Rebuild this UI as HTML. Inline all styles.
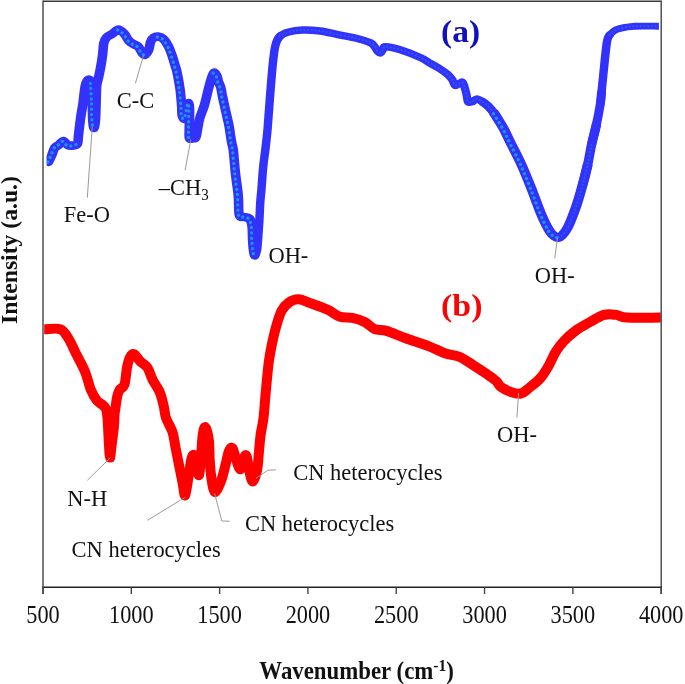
<!DOCTYPE html>
<html><head><meta charset="utf-8"><title>FTIR</title>
<style>
html,body{margin:0;padding:0;background:#fff;}
body{width:685px;height:684px;overflow:hidden;font-family:"Liberation Serif",serif;}
svg{display:block;font-family:"Liberation Serif",serif;filter:blur(0.45px);}
.ld path,.ld line{stroke:#9a9a9a;stroke-width:1;fill:none;}
</style></head><body>
<svg width="685" height="684" viewBox="0 0 685 684">
<rect x="0" y="0" width="685" height="684" fill="#fff"/>
<defs><clipPath id="cb"><rect x="46.6" y="0" width="612.3" height="600"/></clipPath><clipPath id="cr"><rect x="44.2" y="0" width="616.6" height="600"/></clipPath></defs>
<!-- curves -->
<g clip-path="url(#cb)"><g transform="scale(1.1,1)" fill="none" stroke="#3232fa" stroke-linejoin="round" stroke-linecap="round"><path d="M44.18,161.80 C44.44,161.20 45.23,159.33 45.73,158.20 C46.23,157.07 46.53,156.70 47.18,155.00 C47.83,153.30 48.61,149.67 49.64,148.00 C50.67,146.33 52.03,146.17 53.36,145.00 C54.70,143.83 56.30,141.00 57.64,141.00 C58.97,141.00 59.95,144.23 61.36,145.00 C62.77,145.77 64.58,145.80 66.09,145.60 C67.61,145.40 69.59,145.40 70.45,143.80 C71.32,142.20 71.02,138.43 71.27,136.00 C71.53,133.57 71.61,132.67 72.00,129.20 C72.39,125.73 73.08,119.40 73.64,115.20 C74.20,111.00 74.73,108.87 75.36,104.00 C76.00,99.13 76.65,90.03 77.45,86.00 C78.26,81.97 79.27,80.30 80.18,79.80 C81.09,79.30 82.30,79.63 82.91,83.00 C83.52,86.37 83.59,93.83 83.82,100.00 C84.05,106.17 84.00,115.33 84.27,120.00 C84.55,124.67 85.03,128.00 85.45,128.00 C85.88,128.00 86.48,124.67 86.82,120.00 C87.15,115.33 87.27,105.67 87.45,100.00 C87.64,94.33 87.61,89.50 87.91,86.00 C88.21,82.50 88.70,82.00 89.27,79.00 C89.85,76.00 90.70,72.03 91.36,68.00 C92.03,63.97 92.77,58.95 93.27,54.80 C93.77,50.65 93.74,46.03 94.36,43.10 C94.98,40.17 95.68,38.77 97.00,37.20 C98.32,35.63 100.50,34.97 102.27,33.70 C104.05,32.43 105.86,29.60 107.64,29.60 C109.41,29.60 111.32,31.85 112.91,33.70 C114.50,35.55 115.76,38.95 117.18,40.70 C118.61,42.45 120.03,43.22 121.45,44.20 C122.88,45.18 124.48,45.23 125.73,46.60 C126.97,47.97 127.94,51.03 128.91,52.40 C129.88,53.77 130.52,55.18 131.55,54.80 C132.58,54.42 134.20,52.25 135.09,50.10 C135.98,47.95 136.17,43.95 136.91,41.90 C137.65,39.85 138.39,38.68 139.55,37.80 C140.70,36.92 142.30,36.40 143.82,36.60 C145.33,36.80 147.06,37.33 148.64,39.00 C150.21,40.67 151.95,43.78 153.27,46.60 C154.59,49.42 155.52,52.58 156.55,55.90 C157.58,59.22 158.73,63.82 159.45,66.50 C160.18,69.18 160.21,68.30 160.91,72.00 C161.61,75.70 162.94,83.18 163.64,88.70 C164.33,94.22 164.76,100.62 165.09,105.10 C165.42,109.58 165.15,113.37 165.64,115.60 C166.12,117.83 167.27,119.43 168.00,118.50 C168.73,117.57 169.42,112.58 170.00,110.00 C170.58,107.42 171.06,103.00 171.45,103.00 C171.85,103.00 172.27,105.50 172.36,110.00 C172.45,114.50 172.03,125.33 172.00,130.00 C171.97,134.67 171.61,136.62 172.18,138.00 C172.76,139.38 174.45,138.47 175.45,138.30 C176.45,138.13 177.45,138.72 178.18,137.00 C178.91,135.28 179.24,131.17 179.82,128.00 C180.39,124.83 180.64,121.82 181.64,118.00 C182.64,114.18 184.45,110.18 185.82,105.10 C187.18,100.02 188.74,92.02 189.82,87.50 C190.89,82.98 191.50,80.45 192.27,78.00 C193.05,75.55 193.62,73.13 194.45,72.80 C195.29,72.47 196.58,74.52 197.27,76.00 C197.97,77.48 198.06,79.78 198.64,81.70 C199.21,83.62 200.11,84.97 200.73,87.50 C201.35,90.03 201.74,93.58 202.36,96.90 C202.98,100.22 203.74,103.88 204.45,107.40 C205.17,110.92 205.98,114.78 206.64,118.00 C207.29,121.22 207.83,123.48 208.36,126.70 C208.89,129.92 209.41,134.47 209.82,137.30 C210.23,140.13 210.44,141.58 210.82,143.70 C211.20,145.82 211.56,145.15 212.09,150.00 C212.62,154.85 213.32,165.93 214.00,172.80 C214.68,179.67 215.71,186.77 216.18,191.20 C216.65,195.63 216.59,195.43 216.82,199.40 C217.05,203.37 216.71,212.07 217.55,215.00 C218.38,217.93 220.27,216.42 221.82,217.00 C223.36,217.58 225.61,217.00 226.82,218.50 C228.03,220.00 228.62,222.42 229.09,226.00 C229.56,229.58 229.41,235.92 229.64,240.00 C229.86,244.08 230.12,247.95 230.45,250.50 C230.79,253.05 231.11,255.30 231.64,255.30" stroke-width="8.7"/><path d="M231.64,255.30 C232.17,255.30 233.12,253.43 233.64,250.50 C234.15,247.57 234.36,242.78 234.73,237.70 C235.09,232.62 235.50,226.00 235.82,220.00 C236.14,214.00 236.33,206.70 236.64,201.70 C236.94,196.70 237.30,194.45 237.64,190.00 C237.97,185.55 238.32,179.33 238.64,175.00 C238.95,170.67 239.12,168.17 239.55,164.00 C239.97,159.83 240.58,155.67 241.18,150.00 C241.79,144.33 242.44,139.30 243.18,130.00 C243.92,120.70 244.83,105.22 245.64,94.20 C246.44,83.18 247.21,72.02 248.00,63.90 C248.79,55.78 249.30,50.08 250.36,45.50 C251.42,40.92 252.36,38.65 254.36,36.40" stroke-width="7.7"/><path d="M254.36,36.40 C256.36,34.15 258.91,33.07 262.36,32.00 C265.82,30.93 270.30,30.17 275.09,30.00 C279.88,29.83 285.77,30.23 291.09,31.00 C296.41,31.77 301.68,33.43 307.00,34.60 C312.32,35.77 318.08,36.65 323.00,38.00 C327.92,39.35 333.64,41.28 336.55,42.70 C339.45,44.12 339.36,45.12 340.45,46.50 C341.55,47.88 342.18,49.92 343.09,51.00 C344.00,52.08 345.06,53.25 345.91,53.00 C346.76,52.75 347.41,50.53 348.18,49.50 C348.95,48.47 347.82,46.72 350.55,46.80 C353.27,46.88 359.12,48.13 364.55,50.00 C369.97,51.87 378.70,55.80 383.09,58.00 C387.48,60.20 388.18,61.45 390.91,63.20 C393.64,64.95 396.80,66.65 399.45,68.50 C402.11,70.35 404.88,72.45 406.82,74.30 C408.76,76.15 409.94,77.75 411.09,79.60 C412.24,81.45 412.58,84.82 413.73,85.40 C414.88,85.98 416.85,83.58 418.00,83.10 C419.15,82.62 419.83,81.53 420.64,82.50 C421.44,83.47 422.20,86.67 422.82,88.90 C423.44,91.13 423.92,93.75 424.36,95.90 C424.80,98.05 424.65,100.82 425.45,101.80 C426.26,102.78 427.85,102.28 429.18,101.80 C430.52,101.32 431.86,98.90 433.45,98.90 C435.05,98.90 436.95,100.53 438.73,101.80 C440.50,103.07 442.32,104.55 444.09,106.50 C445.86,108.45 447.59,110.78 449.36,113.50" stroke-width="7.5"/><path d="M438.73,101.80 C440.50,103.07 442.32,104.55 444.09,106.50 C445.86,108.45 447.59,110.78 449.36,113.50 C451.14,116.22 453.12,119.88 454.73,122.80" stroke-width="8.2"/><path d="M449.36,113.50 C451.14,116.22 453.12,119.88 454.73,122.80 C456.33,125.72 457.41,127.63 459.00,131.00 C460.59,134.37 461.85,137.60 464.27,143.00 C466.70,148.40 470.44,155.90 473.55,163.40 C476.65,170.90 479.80,179.47 482.91,188.00 C486.02,196.53 489.39,207.43 492.18,214.60 C494.97,221.77 497.58,227.35 499.64,231.00 C501.70,234.65 503.20,235.42 504.55,236.50 C505.89,237.58 506.67,237.67 507.73,237.50 C508.79,237.33 509.47,237.25 510.91,235.50 C512.35,233.75 514.21,231.85 516.36,227.00 C518.52,222.15 521.65,213.23 523.82,206.40 C525.98,199.57 527.65,192.82 529.36,186.00 C531.08,179.18 532.70,172.33 534.09,165.50" stroke-width="9.0"/><path d="M529.36,186.00 C531.08,179.18 532.70,172.33 534.09,165.50 C535.48,158.67 536.38,151.82 537.73,145.00 C539.08,138.18 540.85,131.43 542.18,124.60" stroke-width="8.6"/><path d="M537.73,145.00 C539.08,138.18 540.85,131.43 542.18,124.60 C543.52,117.77 544.95,109.32 545.73,104.00 C546.50,98.68 546.18,99.55 546.82,92.70" stroke-width="8.2"/><path d="M545.73,104.00 C546.50,98.68 546.18,99.55 546.82,92.70 C547.45,85.85 548.70,71.52 549.55,62.90 C550.39,54.28 551.12,45.65 551.91,41.00 C552.70,36.35 552.94,36.87 554.27,35.00" stroke-width="7.7"/><path d="M554.27,35.00 C555.61,33.13 557.65,31.05 559.91,29.80 C562.17,28.55 564.89,28.10 567.82,27.50 C570.74,26.90 572.29,26.42 577.45,26.20 C582.62,25.98 594.61,26.20 598.82,26.20 C603.03,26.20 602.08,26.20 602.73,26.20" stroke-width="6.9"/></g>
<g fill="none" stroke="#14a0f0" stroke-width="3.3" stroke-linejoin="round" stroke-linecap="round"><path d="M47.80,162.10 C48.08,161.50 48.95,159.63 49.50,158.50 C50.05,157.37 50.38,157.00 51.10,155.30 C51.82,153.60 52.67,149.97 53.80,148.30 C54.93,146.63 56.43,146.47 57.90,145.30 C59.37,144.13 61.13,141.30 62.60,141.30 C64.07,141.30 65.15,144.53 66.70,145.30 C68.25,146.07 70.23,146.10 71.90,145.90 C73.57,145.70 75.90,144.40 76.70,144.10" stroke-opacity="0.9" stroke-dasharray="0.1 5.1"/><path d="M90.40,83.30 C90.57,86.13 91.15,94.13 91.40,100.30 C91.65,106.47 91.60,115.63 91.90,120.30 C92.20,124.97 92.98,126.97 93.20,128.30" stroke-opacity="0.9" stroke-dasharray="0.1 5.1"/><path d="M117.60,29.90 C118.57,30.58 121.65,32.15 123.40,34.00 C125.15,35.85 126.53,39.25 128.10,41.00 C129.67,42.75 131.23,43.52 132.80,44.50 C134.37,45.48 136.13,45.53 137.50,46.90 C138.87,48.27 139.93,51.33 141.00,52.70 C142.07,54.07 143.42,54.70 143.90,55.10" stroke-opacity="0.9" stroke-dasharray="0.1 5.1"/><path d="M157.40,36.90 C158.28,37.30 160.97,37.63 162.70,39.30 C164.43,40.97 166.35,44.08 167.80,46.90 C169.25,49.72 170.27,52.88 171.40,56.20 C172.53,59.52 173.80,64.12 174.60,66.80 C175.40,69.48 175.43,68.60 176.20,72.30 C176.97,76.00 178.43,83.48 179.20,89.00 C179.97,94.52 180.43,100.92 180.80,105.40 C181.17,109.88 180.87,113.67 181.40,115.90 C181.93,118.13 183.20,119.73 184.00,118.80 C184.80,117.87 185.57,112.88 186.20,110.30 C186.83,107.72 187.37,103.30 187.80,103.30 C188.23,103.30 188.70,105.80 188.80,110.30 C188.90,114.80 188.43,125.63 188.40,130.30 C188.37,134.97 188.57,136.97 188.60,138.30" stroke-opacity="0.9" stroke-dasharray="0.1 5.1"/><path d="M213.10,73.10 C213.62,73.63 215.43,74.82 216.20,76.30 C216.97,77.78 217.07,80.08 217.70,82.00 C218.33,83.92 219.32,85.27 220.00,87.80 C220.68,90.33 221.12,93.88 221.80,97.20 C222.48,100.52 223.32,104.18 224.10,107.70 C224.88,111.22 225.78,115.08 226.50,118.30 C227.22,121.52 227.82,123.78 228.40,127.00 C228.98,130.22 229.55,134.77 230.00,137.60 C230.45,140.43 230.68,141.88 231.10,144.00 C231.52,146.12 231.92,145.45 232.50,150.30 C233.08,155.15 233.85,166.23 234.60,173.10 C235.35,179.97 236.48,187.07 237.00,191.50 C237.52,195.93 237.45,195.73 237.70,199.70 C237.95,203.67 237.58,212.37 238.50,215.30 C239.42,218.23 241.50,216.72 243.20,217.30 C244.90,217.88 247.37,217.30 248.70,218.80 C250.03,220.30 250.68,222.72 251.20,226.30 C251.72,229.88 251.55,236.22 251.80,240.30 C252.05,244.38 252.33,248.25 252.70,250.80 C253.07,253.35 253.78,254.80 254.00,255.60" stroke-opacity="0.9" stroke-dasharray="0.1 5.1"/><path d="M493.50,113.80 C494.48,115.35 497.63,120.18 499.40,123.10 C501.17,126.02 502.35,127.93 504.10,131.30 C505.85,134.67 507.23,137.90 509.90,143.30 C512.57,148.70 516.68,156.20 520.10,163.70 C523.52,171.20 526.98,179.77 530.40,188.30 C533.82,196.83 537.53,207.73 540.60,214.90 C543.67,222.07 546.53,227.65 548.80,231.30 C551.07,234.95 552.72,235.72 554.20,236.80 C555.68,237.88 557.12,237.63 557.70,237.80" stroke-opacity="0.9" stroke-dasharray="0.1 5.1"/><path d="M279.80,36.40 C281.27,35.67 284.80,33.07 288.60,32.00 C292.40,30.93 297.33,30.17 302.60,30.00 C307.87,29.83 314.35,30.23 320.20,31.00 C326.05,31.77 331.85,33.43 337.70,34.60 C343.55,35.77 349.88,36.65 355.30,38.00 C360.72,39.35 367.00,41.28 370.20,42.70 C373.40,44.12 373.30,45.12 374.50,46.50 C375.70,47.88 376.40,49.92 377.40,51.00 C378.40,52.08 379.57,53.25 380.50,53.00 C381.43,52.75 382.15,50.53 383.00,49.50 C383.85,48.47 382.60,46.72 385.60,46.80 C388.60,46.88 395.03,48.13 401.00,50.00 C406.97,51.87 416.57,55.80 421.40,58.00 C426.23,60.20 427.00,61.45 430.00,63.20 C433.00,64.95 436.48,66.65 439.40,68.50 C442.32,70.35 445.37,72.45 447.50,74.30 C449.63,76.15 450.93,77.75 452.20,79.60 C453.47,81.45 453.83,84.82 455.10,85.40 C456.37,85.98 458.53,83.58 459.80,83.10 C461.07,82.62 461.82,81.53 462.70,82.50 C463.58,83.47 464.42,86.67 465.10,88.90 C465.78,91.13 466.32,93.75 466.80,95.90 C467.28,98.05 467.12,100.82 468.00,101.80 C468.88,102.78 470.63,102.28 472.10,101.80 C473.57,101.32 475.05,98.90 476.80,98.90 C478.55,98.90 480.65,100.53 482.60,101.80 C484.55,103.07 486.55,104.55 488.50,106.50 C490.45,108.45 493.33,112.33 494.30,113.50" stroke-opacity="0.35" stroke-width="2.2" stroke-dasharray="0.1 3.6"/><path d="M558.50,237.50 C559.08,237.17 560.42,237.25 562.00,235.50 C563.58,233.75 565.63,231.85 568.00,227.00 C570.37,222.15 573.82,213.23 576.20,206.40 C578.58,199.57 580.42,192.82 582.30,186.00 C584.18,179.18 585.97,172.33 587.50,165.50 C589.03,158.67 590.83,148.42 591.50,145.00" stroke-opacity="0.35" stroke-width="2.2" stroke-dasharray="0.1 3.6"/><path d="M609.70,35.00 C610.73,34.13 613.42,31.05 615.90,29.80 C618.38,28.55 621.38,28.10 624.60,27.50 C627.82,26.90 629.52,26.42 635.20,26.20 C640.88,25.98 654.78,26.20 658.70,26.20" stroke-opacity="0.35" stroke-width="2.2" stroke-dasharray="0.1 3.6"/></g></g>
<path clip-path="url(#cr)" d="M40.00,329.30 C40.77,329.30 41.18,329.30 44.60,329.30 C48.02,329.30 56.48,327.70 60.50,329.30 C64.52,330.90 66.15,334.92 68.70,338.90 C71.25,342.88 73.08,347.75 75.80,353.20 C78.52,358.65 82.50,365.52 85.00,371.60 C87.50,377.68 88.85,384.93 90.80,389.70 C92.75,394.47 94.75,397.67 96.70,400.20 C98.65,402.73 100.95,403.43 102.50,404.90 C104.05,406.37 105.17,406.82 106.00,409.00 C106.83,411.18 107.17,415.17 107.50,418.00 C107.83,420.83 107.72,420.83 108.00,426.00 C108.28,431.17 108.85,443.73 109.20,449.00 C109.55,454.27 109.77,457.60 110.10,457.60 C110.43,457.60 110.55,454.27 111.20,449.00 C111.85,443.73 113.45,431.67 114.00,426.00 C114.55,420.33 114.27,417.93 114.50,415.00 C114.73,412.07 114.95,411.45 115.40,408.40 C115.85,405.35 116.52,399.77 117.20,396.70 C117.88,393.63 118.28,392.03 119.50,390.00 C120.72,387.97 123.25,388.25 124.50,384.50 C125.75,380.75 126.08,372.03 127.00,367.50 C127.92,362.97 128.82,359.52 130.00,357.30 C131.18,355.08 132.38,353.52 134.10,354.20 C135.82,354.88 138.08,359.18 140.30,361.40 C142.52,363.62 145.35,364.43 147.40,367.50 C149.45,370.57 150.55,375.72 152.60,379.80 C154.65,383.88 157.83,387.57 159.70,392.00 C161.57,396.43 162.75,402.07 163.80,406.40 C164.85,410.73 164.55,413.73 166.00,418.00 C167.45,422.27 170.90,427.02 172.50,432.00 C174.10,436.98 174.50,442.33 175.60,447.90 C176.70,453.47 177.93,459.55 179.10,465.40 C180.27,471.25 181.58,478.02 182.60,483.00 C183.62,487.98 184.18,496.57 185.20,495.30 C186.22,494.03 187.68,481.35 188.70,475.40 C189.72,469.45 190.42,462.95 191.30,459.60 C192.18,456.25 192.97,453.53 194.00,455.30 C195.03,457.07 196.63,466.98 197.50,470.20 C198.37,473.42 198.62,476.65 199.20,474.60 C199.78,472.55 200.42,464.50 201.00,457.90 C201.58,451.30 201.97,440.12 202.70,435.00 C203.43,429.88 204.37,426.30 205.40,427.20 C206.43,428.10 208.18,435.00 208.90,440.40 C209.62,445.80 209.27,453.18 209.70,459.60 C210.13,466.02 210.62,473.48 211.50,478.90 C212.38,484.32 213.40,491.80 215.00,492.10 C216.60,492.40 219.35,485.23 221.10,480.70 C222.85,476.17 224.18,469.87 225.50,464.90 C226.82,459.93 227.83,453.68 229.00,450.90 C230.17,448.12 231.32,446.75 232.50,448.20 C233.68,449.65 234.78,456.08 236.10,459.60 C237.42,463.12 239.10,469.58 240.40,469.30 C241.70,469.02 242.87,460.10 243.90,457.90 C244.93,455.70 245.72,454.05 246.60,456.10 C247.48,458.15 248.18,465.95 249.20,470.20 C250.22,474.45 251.38,481.60 252.70,481.60 C254.02,481.60 256.07,475.03 257.10,470.20 C258.13,465.37 258.32,458.47 258.90,452.60 C259.48,446.73 259.83,440.77 260.60,435.00 C261.37,429.23 262.68,424.67 263.50,418.00 C264.32,411.33 264.62,404.35 265.50,395.00 C266.38,385.65 267.63,370.83 268.80,361.90 C269.97,352.97 271.20,347.55 272.50,341.40 C273.80,335.25 275.07,330.12 276.60,325.00 C278.13,319.88 279.65,314.45 281.70,310.70 C283.75,306.95 286.08,304.42 288.90,302.50 C291.72,300.58 294.85,299.03 298.60,299.20 C302.35,299.37 306.53,301.75 311.40,303.50 C316.27,305.25 323.03,307.48 327.80,309.70 C332.57,311.92 335.92,315.43 340.00,316.80 C344.08,318.17 348.20,317.03 352.30,317.90 C356.40,318.77 360.85,320.13 364.60,322.00 C368.35,323.87 371.17,327.62 374.80,329.10 C378.43,330.58 381.35,329.42 386.40,330.90 C391.45,332.38 398.08,335.47 405.10,338.00 C412.12,340.53 421.87,343.57 428.50,346.10 C435.13,348.63 439.83,351.43 444.90,353.20 C449.97,354.97 454.23,354.75 458.90,356.70 C463.57,358.65 468.22,361.98 472.90,364.90 C477.58,367.82 483.10,371.48 487.00,374.20 C490.90,376.92 493.97,379.05 496.30,381.20 C498.63,383.35 498.65,385.33 501.00,387.10 C503.35,388.87 507.08,390.73 510.40,391.80 C513.72,392.87 517.67,394.23 520.90,393.50 C524.13,392.77 526.52,390.00 529.80,387.40 C533.08,384.80 537.45,381.52 540.60,377.90 C543.75,374.28 546.22,369.98 548.70,365.70 C551.18,361.42 553.02,356.25 555.50,352.20 C557.98,348.15 560.23,345.00 563.60,341.40 C566.97,337.80 571.42,333.75 575.70,330.60 C579.98,327.45 584.57,325.12 589.30,322.50 C594.03,319.88 599.60,316.17 604.10,314.90 C608.60,313.63 612.47,314.45 616.30,314.90 C620.13,315.35 619.72,317.15 627.10,317.60 C634.48,318.05 654.28,317.60 660.60,317.60 C666.92,317.60 664.27,317.60 665.00,317.60" fill="none" stroke="#ff0000" stroke-width="10" stroke-linejoin="round" stroke-linecap="round"/>
<!-- leaders -->
<g class="ld">
<line x1="143.5" y1="55.4" x2="135.4" y2="83.4"/>
<line x1="92.3" y1="126.3" x2="87.3" y2="197.7"/>
<line x1="190.8" y1="139.5" x2="185.1" y2="170.3"/>
<line x1="557.6" y1="237.5" x2="554.7" y2="258.4"/>
<line x1="110.4" y1="457.6" x2="87.5" y2="480.2"/>
<line x1="185" y1="497.4" x2="147.4" y2="520.3"/>
<path d="M214.6,493.5 L221.8,521 L229.7,521.2"/>
<path d="M256,478.4 L267.6,470.3 L275.9,469.8"/>
<line x1="518.6" y1="393" x2="516.9" y2="417.5"/>
</g>
<!-- frame -->
<g fill="none">
<line x1="43" y1="1.2" x2="661.2" y2="1.2" stroke="#3a3a3a" stroke-width="1.4"/>
<line x1="43" y1="0.6" x2="43" y2="594" stroke="#444" stroke-width="1.4"/>
<line x1="661.2" y1="0.6" x2="661.2" y2="594" stroke="#444" stroke-width="1.4"/>
<line x1="42.4" y1="587.2" x2="661.8" y2="587.2" stroke="#222" stroke-width="1.6"/>
<g stroke="#444" stroke-width="1.4"><line x1="43.00" y1="587.2" x2="43.00" y2="594" /><line x1="131.31" y1="587.2" x2="131.31" y2="594" /><line x1="219.62" y1="587.2" x2="219.62" y2="594" /><line x1="307.93" y1="587.2" x2="307.93" y2="594" /><line x1="396.24" y1="587.2" x2="396.24" y2="594" /><line x1="484.55" y1="587.2" x2="484.55" y2="594" /><line x1="572.86" y1="587.2" x2="572.86" y2="594" /><line x1="661.17" y1="587.2" x2="661.17" y2="594" /></g>
</g>
<g><text transform="translate(43.00,622.70) scale(0.914,1)" font-size="24.4" font-weight="normal" fill="#111" text-anchor="middle">500</text><text transform="translate(131.31,622.70) scale(0.914,1)" font-size="24.4" font-weight="normal" fill="#111" text-anchor="middle">1000</text><text transform="translate(219.62,622.70) scale(0.914,1)" font-size="24.4" font-weight="normal" fill="#111" text-anchor="middle">1500</text><text transform="translate(307.93,622.70) scale(0.914,1)" font-size="24.4" font-weight="normal" fill="#111" text-anchor="middle">2000</text><text transform="translate(396.24,622.70) scale(0.914,1)" font-size="24.4" font-weight="normal" fill="#111" text-anchor="middle">2500</text><text transform="translate(484.55,622.70) scale(0.914,1)" font-size="24.4" font-weight="normal" fill="#111" text-anchor="middle">3000</text><text transform="translate(572.86,622.70) scale(0.914,1)" font-size="24.4" font-weight="normal" fill="#111" text-anchor="middle">3500</text><text transform="translate(661.17,622.70) scale(0.914,1)" font-size="24.4" font-weight="normal" fill="#111" text-anchor="middle">4000</text></g>
<g><text transform="translate(116.70,107.60) scale(0.937,1)" font-size="24.0" font-weight="normal" fill="#111" text-anchor="start">C-C</text><text transform="translate(63.80,222.20) scale(0.937,1)" font-size="24.0" font-weight="normal" fill="#111" text-anchor="start">Fe-O</text><text transform="translate(158.70,195.00) scale(0.937,1)" font-size="24.0" font-weight="normal" fill="#111" text-anchor="start">–CH<tspan font-size="16" dy="5">3</tspan></text><text transform="translate(268.40,262.60) scale(0.937,1)" font-size="24.0" font-weight="normal" fill="#111" text-anchor="start">OH-</text><text transform="translate(534.70,283.00) scale(0.937,1)" font-size="24.0" font-weight="normal" fill="#111" text-anchor="start">OH-</text><text transform="translate(67.20,505.60) scale(0.937,1)" font-size="24.0" font-weight="normal" fill="#111" text-anchor="start">N-H</text><text transform="translate(71.60,556.70) scale(0.937,1)" font-size="24.0" font-weight="normal" fill="#111" text-anchor="start">CN heterocycles</text><text transform="translate(245.00,530.70) scale(0.937,1)" font-size="24.0" font-weight="normal" fill="#111" text-anchor="start">CN heterocycles</text><text transform="translate(293.20,479.50) scale(0.937,1)" font-size="24.0" font-weight="normal" fill="#111" text-anchor="start">CN heterocycles</text><text transform="translate(497.10,442.30) scale(0.937,1)" font-size="24.0" font-weight="normal" fill="#111" text-anchor="start">OH-</text></g>
<g><text transform="translate(441.00,41.80) scale(1.04,1)" font-size="32.2" font-weight="bold" fill="#1010c0" text-anchor="start">(a)</text><text transform="translate(441.00,315.60) scale(1.06,1)" font-size="32" font-weight="bold" fill="#f50505" text-anchor="start">(b)</text><text transform="translate(259.30,678.60) scale(0.94,1)" font-size="24.3" font-weight="bold" fill="#111" text-anchor="start">Wavenumber (cm<tspan font-size="16.5" dy="-7.5">-1</tspan><tspan dy="7.5">)</tspan></text><text transform="translate(17.30,324.00) rotate(-90) scale(1.048,1)" font-size="22.6" font-weight="bold" fill="#111" text-anchor="start">Intensity (a.u.)</text></g>
</svg>
</body></html>
